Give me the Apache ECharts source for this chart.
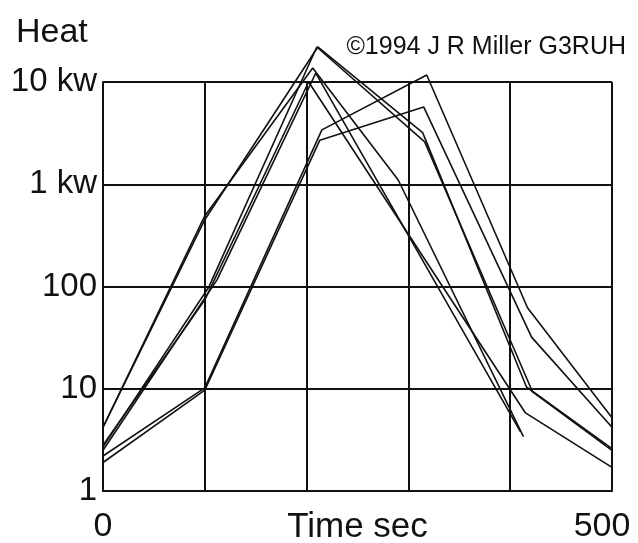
<!DOCTYPE html>
<html>
<head>
<meta charset="utf-8">
<script src="https://cdn.jsdelivr.net/npm/echarts@6/dist/echarts.min.js"></script>
<style>
  html, body { margin: 0; padding: 0; background: #fff; }
  #main { width: 638px; height: 543px; }
</style>
</head>
<body>
<div id="main"></div>
<script>
// time (s), heat (W) vertices
const lineA1 = [[0, 4.2], [100, 490], [206, 13700], [290, 1100], [413, 3.4]];
const lineA2 = [[0, 4.2], [100, 450], [211, 22000], [314, 3200], [416, 10.4], [500, 2.6]];
const lineB = [[0, 2.7], [104, 99], [210, 22000], [316, 2600], [422, 9.3], [500, 2.5]];
const lineC = [[0, 2.5], [112, 116], [209, 12200], [410, 3.8]];
const lineF = [[0, 2.8], [100, 74], [202, 10000], [415, 5.8], [500, 1.7]];
const lineD = [[0, 2.2], [100, 10.2], [215, 3400], [318, 11700], [417, 62], [500, 5.2]];
const lineE = [[0, 1.9], [100, 9.7], [213, 2700], [315, 5700], [421, 32], [500, 4.2]];

const allLines = [lineA1, lineA2, lineB, lineC, lineF, lineD, lineE];

const yLabels = { 1: '1', 10: '10', 100: '100', 1000: '1 kw', 10000: '10 kw' };
const xLabels = { 0: '0', 500: '{m|500}' };

var dom = document.getElementById('main');
var myChart = echarts.init(dom, null, { renderer: 'canvas' });

const font = 'Liberation Sans, Arial, sans-serif';

var option = {
    backgroundColor: '#fff',
    animation: false,
    title: [
        {
            text: 'Heat',
            left: 11, top: 11,
            textStyle: { fontFamily: font, fontSize: 34, fontWeight: 'normal', color: '#111' }
        },
        {
            text: '\u00a91994 J R Miller G3RUH',
            right: 7, top: 30,
            textStyle: { fontFamily: font, fontSize: 25, fontWeight: 'normal', color: '#111' }
        }
    ],
    grid: { left: 103, right: 26, top: 82, bottom: 52, outerBoundsMode: 'none', containLabel: false },
    xAxis: {
        type: 'value',
        min: 0, max: 500, interval: 100,
        name: 'Time sec',
        nameLocation: 'middle',
        nameGap: 36,
        nameMoveOverlap: false,
        nameTextStyle: { fontFamily: font, fontSize: 35, color: '#111', verticalAlign: 'middle' },
        axisLine: { show: true, lineStyle: { color: '#111', width: 2 } },
        axisTick: { show: false },
        splitLine: { show: true, lineStyle: { color: '#111', width: 2 } },
        axisLabel: {
            margin: 19,
            fontFamily: font, fontSize: 34, color: '#111',
            formatter: function (v) { return xLabels[v] !== undefined ? xLabels[v] : ''; },
            rich: {
                m: { fontFamily: font, fontSize: 34, color: '#111', padding: [0, 20, 0, 0] }
            }
        }
    },
    yAxis: {
        type: 'log',
        min: 1, max: 10000, logBase: 10,
        axisLine: { show: true, lineStyle: { color: '#111', width: 2 } },
        axisTick: { show: false },
        splitLine: { show: true, lineStyle: { color: '#111', width: 2 } },
        axisLabel: {
            margin: 6,
            fontFamily: font, fontSize: 33, color: '#111',
            formatter: function (v) { return yLabels[Math.round(v)] || ''; }
        }
    },
    series: allLines.map(function (d) {
        return {
            type: 'line',
            data: d,
            showSymbol: false,
            clip: false,
            silent: true,
            lineStyle: { color: '#111', width: 1.6 }
        };
    })
};

myChart.setOption(option);
window.addEventListener('resize', myChart.resize);
</script>
</body>
</html>
